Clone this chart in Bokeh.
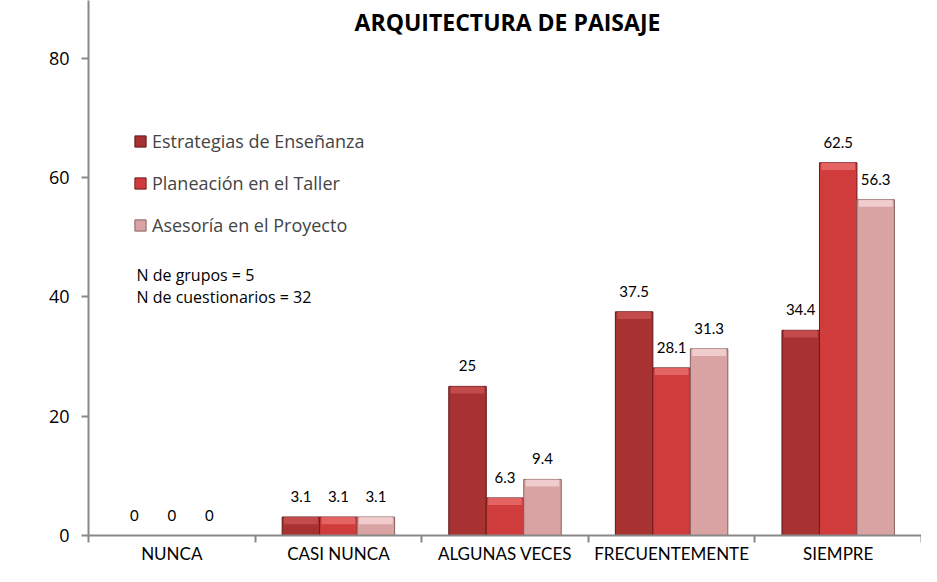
import numpy as np
from bokeh.plotting import figure
from bokeh.models import (FixedTicker, Range1d, Label, Legend, LegendItem,
                          ColumnDataSource, LabelSet)
from bokeh.core.properties import value
from bokeh.embed import file_html
from bokeh.resources import INLINE

categories = ["NUNCA", "CASI NUNCA", "ALGUNAS VECES", "FRECUENTEMENTE", "SIEMPRE"]
series_names = ["Estrategias de Enseñanza", "Planeación en el Taller", "Asesoría en el Proyecto"]
estrategias = [0, 3.1, 25, 37.5, 34.4]
planeacion = [0, 3.1, 6.3, 28.1, 62.5]
asesoria = [0, 3.1, 9.4, 31.3, 56.3]
y_ticks = [0, 20, 40, 60, 80]
title_text = "ARQUITECTURA DE PAISAJE"
y_title = "Porcentaje de respuestas de los alumnos"
notes = ["N de grupos = 5", "N de cuestionarios = 32"]

series = [estrategias, planeacion, asesoria]
fills = ["#A83232", "#D03C3C", "#D9A3A3"]
tops = ["#C85050", "#E86A6A", "#F3D3D3"]
lines = ["#5E1616", "#6E1A1A", "#8A6060"]

FONT = "Lato"        # Gill Sans-like texts
BODY = "Open Sans"   # Calibri-like texts

W, H = 921, 566
LEFT = 88
FRAME_H = 536
p = figure(width=W, height=H, output_backend="svg", toolbar_location=None,
           x_range=Range1d(0, len(categories)), y_range=Range1d(0, 89.7),
           min_border_left=LEFT, min_border_right=0, min_border_top=0,
           min_border_bottom=H - FRAME_H)
p.outline_line_color = None
p.xgrid.visible = False
p.ygrid.visible = False
p.background_fill_color = "white"

bw = 0.225
offsets = [-bw, 0.0, bw]
legend_items = []
for k, (vals, off) in enumerate(zip(series, offsets)):
    xs = [i + 0.5 + off for i in range(len(categories))]
    src = ColumnDataSource(dict(x=xs, top=vals,
                                lbl=[f"{v:g}" for v in vals],
                                bbot=[max(v - 1.2, 0) for v in vals]))
    r = p.vbar(x="x", top="top", bottom=0, width=bw, source=src,
               fill_color=fills[k], line_color=lines[k], line_width=1)
    p.vbar(x="x", top="top", bottom="bbot", width=bw * 0.9, source=src,
           fill_color=tops[k], line_color=None, fill_alpha=0.85)
    legend_items.append(LegendItem(label=series_names[k], renderers=[r]))
    labels = LabelSet(x="x", y="top", text="lbl", source=src,
                      text_align="center", text_baseline="bottom", y_offset=15,
                      text_font=value(FONT), text_font_size="15px", text_color="black")
    p.add_layout(labels)

legend = Legend(items=legend_items, location=(45, FRAME_H - 238), orientation="vertical",
                glyph_width=14, glyph_height=14, label_height=22, spacing=18,
                padding=0, margin=0, border_line_color=None,
                background_fill_alpha=0, label_text_font=BODY,
                label_text_font_size="18px", label_standoff=5)
p.add_layout(legend)

# axes
xa = p.xaxis[0]
xa.ticker = FixedTicker(ticks=[i + 0.5 for i in range(len(categories))],
                        minor_ticks=list(range(len(categories) + 1)))
xa.major_label_overrides = {i + 0.5: c for i, c in enumerate(categories)}
xa.major_tick_out = 0
xa.major_tick_in = 0
xa.minor_tick_out = 7
xa.minor_tick_in = 0
xa.minor_tick_line_color = "#888888"
xa.axis_line_color = "#888888"
xa.axis_line_width = 2
xa.minor_tick_line_width = 2
xa.major_label_standoff = 0
xa.major_label_text_font = FONT
xa.major_label_text_font_size = "17px"
xa.major_label_text_color = "black"

ya = p.yaxis[0]
ya.ticker = FixedTicker(ticks=y_ticks, minor_ticks=[])
ya.major_tick_out = 7
ya.major_tick_in = 0
ya.major_tick_line_color = "#888888"
ya.major_tick_line_width = 2
ya.axis_line_color = "#888888"
ya.axis_line_width = 2
ya.major_label_standoff = 12
ya.major_label_text_font = BODY
ya.major_label_text_font_size = "18px"
ya.major_label_text_color = "black"

p.add_layout(Label(x=419, y=FRAME_H - 22, x_units="screen", y_units="screen",
                   text=title_text, text_align="center", text_baseline="middle",
                   text_font=BODY, text_font_size="23px", text_font_style="bold",
                   text_color="black"))
p.add_layout(Label(x=-58, y=FRAME_H - 250, x_units="screen", y_units="screen",
                   text=y_title, text_align="center", text_baseline="middle",
                   angle=np.pi / 2, text_font=BODY, text_font_size="15px",
                   text_font_style="bold", text_color="black"))
for j, t in enumerate(notes):
    p.add_layout(Label(x=48, y=FRAME_H - (275 + 22 * j), x_units="screen", y_units="screen",
                       text=t, text_align="left", text_baseline="middle",
                       text_font=BODY, text_font_size="16px", text_color="black"))

open("out.html", "w").write(file_html(p, INLINE))
